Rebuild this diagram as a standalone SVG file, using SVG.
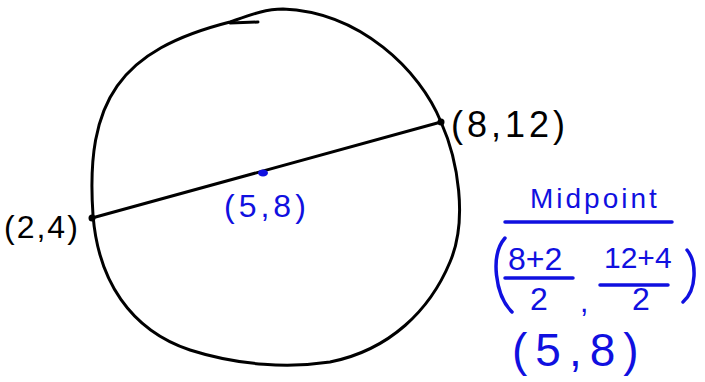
<svg xmlns="http://www.w3.org/2000/svg" width="705" height="382" viewBox="0 0 705 382">
<style>
.ink{fill:none;stroke:#000;stroke-width:3;stroke-linecap:round;stroke-linejoin:round}
.blu{fill:none;stroke:#1010e0;stroke-width:3.5;stroke-linecap:round}
.tk{font-family:"Liberation Sans","DejaVu Sans",sans-serif;fill:#000}
.tb{font-family:"Liberation Sans","DejaVu Sans",sans-serif;fill:#1010e0}
</style>
<rect width="705" height="382" fill="#fff"/>
<g id="circle">
<path class="ink" d="M93,215 C85,100 120,50 230,22 C250,15 265,9 283,9 C360,12 420,70 441,122 C458,160 468,220 450,262 C430,310 390,350 330,362 C290,368 240,366 190,350 C130,330 98,280 93,215 Z"/>
<path class="ink" d="M230,23 L258,22"/>
</g>
<g id="connectors">
<line class="ink" x1="92" y1="218" x2="441" y2="122"/>
</g>
<g id="p1">
<circle cx="92" cy="218" r="3.5" fill="#000"/>
<text class="tk" x="4" y="238" font-size="32" letter-spacing="2">(2,4)</text>
</g>
<g id="p2">
<circle cx="441" cy="122" r="3.5" fill="#000"/>
<text class="tk" x="451" y="137" font-size="36" letter-spacing="4">(8,12)</text>
</g>
<g id="mid">
<ellipse cx="263" cy="173" rx="5" ry="3.5" fill="#1010e0"/>
<text class="tb" x="224" y="217" font-size="32" letter-spacing="4">(5,8)</text>
</g>
<g id="calc">
<text class="tb" x="530" y="208" font-size="28" letter-spacing="3">Midpoint</text>
<line class="blu" x1="505" y1="222" x2="672" y2="222"/>
<path class="blu" d="M505,238 C490,255 495,295 512,312"/>
<path class="blu" d="M687,250 C697,262 697,290 683,302"/>
<text class="tb" x="508" y="270" font-size="32">8+2</text>
<line class="blu" x1="505" y1="278" x2="573" y2="278"/>
<text class="tb" x="530" y="310" font-size="32">2</text>
<text class="tb" x="580" y="312" font-size="30">,</text>
<text class="tb" x="604" y="268" font-size="30">12+4</text>
<line class="blu" x1="600" y1="285" x2="668" y2="285"/>
<text class="tb" x="632" y="310" font-size="32">2</text>
<text class="tb" x="512" y="366" font-size="46" letter-spacing="8">(5,8)</text>
</g>
</svg>
